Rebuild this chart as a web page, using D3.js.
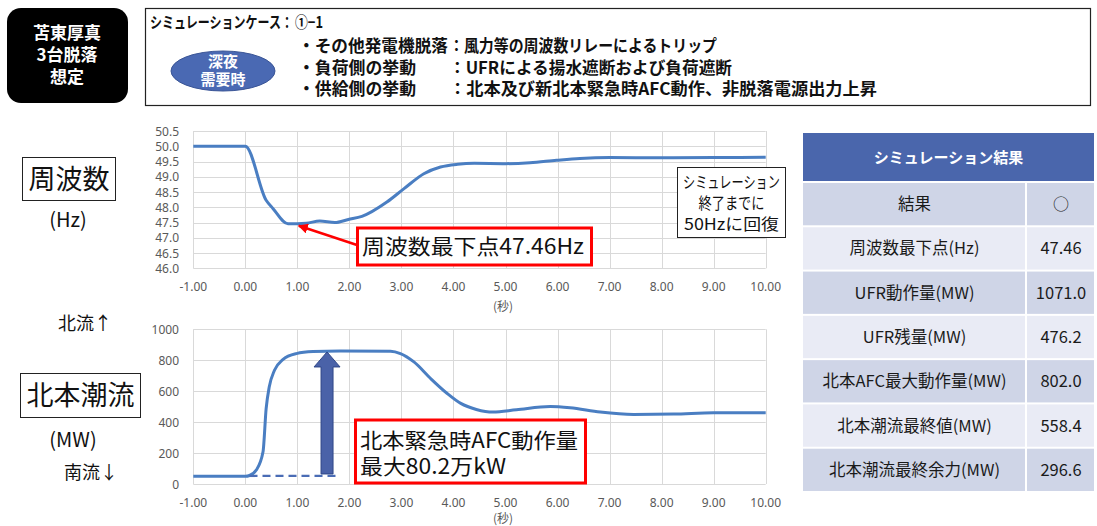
<!DOCTYPE html>
<html><head><meta charset="utf-8">
<script src="https://cdn.jsdelivr.net/npm/d3@7"></script>
<style>body{margin:0;background:#fff}svg{display:block}</style>
</head><body>
<svg id="c" width="1097" height="526"></svg>
<script>
// ---- data ----
const timeTicks = [-1,0,1,2,3,4,5,6,7,8,9,10];
const freqTicks = [46.0,46.5,47.0,47.5,48.0,48.5,49.0,49.5,50.0,50.5];
const flowTicks = [0,200,400,600,800,1000];
const freqT = [-1,0,0.40,0.53,0.82,1.17,1.43,1.72,1.98,2.24,2.72,3.05,3.43,3.75,4.08,4.4,5.0,5.47,5.98,6.43,7.0,8.0,9.0,10.0];
const freqV = [50.0,50.0,48.23,47.96,47.46,47.48,47.55,47.50,47.60,47.70,48.17,48.61,49.10,49.32,49.41,49.44,49.43,49.46,49.54,49.60,49.63,49.62,49.63,49.64];
const flowT = [-1,0,0.08,0.21,0.34,0.40,0.46,0.56,0.72,0.98,1.30,1.82,2.79,2.98,3.24,3.56,3.88,4.14,4.44,4.76,5.21,5.86,6.24,6.82,7.46,8.23,9.0,10.0];
const flowV = [50,50,55,90,208,488,628,735,804,843,856,860,858,843,789,682,585,521,482,465,480,501,493,465,450,452,460,460];
const baseFlow = 52;      // dashed base line
const peakFlow = 860;     // arrow top
const afcT = 1.57;        // arrow time
const dashT = [0.08, 1.82];
const minFreqT = 0.95, minFreqV = 47.46;
const caseTitle = ["シミュレーションケース：", "①−1"];
const headerLines = [
  ["・その他発電機脱落", "：風力等の周波数リレーによるトリップ"],
  ["・負荷側の挙動", "：UFRによる揚水遮断および負荷遮断"],
  ["・供給側の挙動", "：北本及び新北本緊急時AFC動作、非脱落電源出力上昇"]
];
const tableRows = [
  ["結果","○"],
  ["周波数最下点(Hz)","47.46"],
  ["UFR動作量(MW)","1071.0"],
  ["UFR残量(MW)","476.2"],
  ["北本AFC最大動作量(MW)","802.0"],
  ["北本潮流最終値(MW)","558.4"],
  ["北本潮流最終余力(MW)","296.6"]
];

const svg = d3.select("#c");
const JP = "'Noto Sans CJK JP','Noto Sans',sans-serif";
const NUM = "'Noto Sans','Liberation Sans',sans-serif";

// ---- header ----
svg.append("rect").attr("x",7).attr("y",8).attr("width",121).attr("height",95).attr("rx",14).attr("fill","#000");
[["苫東厚真",39],["3台脱落",61],["想定",83]].forEach(([t,y])=>{
  svg.append("text").attr("x",67).attr("y",y).attr("text-anchor","middle").attr("fill","#fff")
    .attr("font-family",JP).attr("font-weight","bold").attr("font-size",17).text(t);
});
svg.append("rect").attr("x",145.5).attr("y",8.5).attr("width",945).attr("height",97).attr("fill","#fff").attr("stroke","#222").attr("stroke-width",1.2);
svg.append("text").attr("x",150).attr("y",28).attr("font-family",JP).attr("font-weight","bold").attr("font-size",15.5).attr("fill","#111")
  .attr("textLength",143).attr("lengthAdjust","spacingAndGlyphs").text(caseTitle[0]);
svg.append("text").attr("x",295).attr("y",28).attr("font-family",JP).attr("font-weight","bold").attr("font-size",16).attr("fill","#111")
  .attr("textLength",28).attr("lengthAdjust","spacingAndGlyphs").text(caseTitle[1]);
svg.append("ellipse").attr("cx",223).attr("cy",71).attr("rx",52).attr("ry",20).attr("fill","#4a69b3").attr("stroke","#3a5596").attr("stroke-width",1);
[["深夜",67],["需要時",85]].forEach(([t,y])=>{
  svg.append("text").attr("x",223).attr("y",y).attr("text-anchor","middle").attr("fill","#fff")
    .attr("font-family",JP).attr("font-weight","bold").attr("font-size",15).text(t);
});
const valLen = [268, 283, 428];
headerLines.forEach((l,i)=>{
  const y = 52 + i*21.5;
  svg.append("text").attr("x",298).attr("y",y).attr("font-family",JP).attr("font-weight","bold").attr("font-size",16.5).attr("fill","#111")
    .attr("textLength", i===0 ? 150 : 118).attr("lengthAdjust","spacingAndGlyphs").text(l[0]);
  svg.append("text").attr("x",449).attr("y",y).attr("font-family",JP).attr("font-weight","bold").attr("font-size",16.5).attr("fill","#111")
    .attr("textLength",valLen[i]).attr("lengthAdjust","spacingAndGlyphs").text(l[1]);
});

// ---- scales ----
const x = d3.scaleLinear().domain([-1,10]).range([193.3,765.7]);
const yF = d3.scaleLinear().domain([46,50.5]).range([268.3,131]);
const yW = d3.scaleLinear().domain([0,1000]).range([484,329.3]);

function panel(y, ticks, fmt, labelY, unitY){
  const g = svg.append("g");
  g.selectAll(".hg").data(ticks).join("line")
    .attr("x1",x(-1)).attr("x2",x(10)).attr("y1",d=>Math.round(y(d))+0.5).attr("y2",d=>Math.round(y(d))+0.5)
    .attr("stroke","#d9d9d9").attr("stroke-width",1);
  g.selectAll(".vg").data(timeTicks).join("line")
    .attr("y1",y.range()[1]).attr("y2",y.range()[0]).attr("x1",d=>Math.round(x(d))+0.5).attr("x2",d=>Math.round(x(d))+0.5)
    .attr("stroke","#d9d9d9").attr("stroke-width",1);
  g.selectAll(".yl").data(ticks).join("text")
    .attr("x",179).attr("y",d=>y(d)+4.5).attr("text-anchor","end").attr("font-family",NUM).attr("font-size",12).attr("fill","#595959").text(fmt);
  g.selectAll(".xl").data(timeTicks).join("text")
    .attr("x",d=>x(d)).attr("y",labelY).attr("text-anchor","middle").attr("font-family",NUM).attr("font-size",12).attr("fill","#595959").text(d=>d.toFixed(2));
  g.append("text").attr("x",503).attr("y",unitY).attr("text-anchor","middle").attr("font-family",JP).attr("font-size",12).attr("fill","#595959").text("(秒)");
}
panel(yF, freqTicks, d=>d.toFixed(1), 291, 311);
panel(yW, flowTicks, d=>d, 507, 523);

const lineColor = "#4a7ec2";
svg.append("path").datum(freqT.map((t,i)=>[t,freqV[i]]))
  .attr("d", d3.line().x(d=>x(d[0])).y(d=>yF(d[1])).curve(d3.curveMonotoneX))
  .attr("fill","none").attr("stroke",lineColor).attr("stroke-width",3);
svg.append("path").datum(flowT.map((t,i)=>[t,flowV[i]]))
  .attr("d", d3.line().x(d=>x(d[0])).y(d=>yW(d[1])).curve(d3.curveMonotoneX))
  .attr("fill","none").attr("stroke",lineColor).attr("stroke-width",3);

// dashed base
svg.append("line").attr("x1",x(dashT[0])).attr("x2",x(dashT[1])).attr("y1",yW(baseFlow)).attr("y2",yW(baseFlow))
  .attr("stroke","#4a6cb5").attr("stroke-width",2.2).attr("stroke-dasharray","8,5");
// big arrow
{
  const cx = x(afcT), yb = yW(baseFlow)-2, yt = yW(peakFlow)+1, sw = 6, hw = 13, hh = 15;
  const pts = [[cx-sw,yb],[cx-sw,yt+hh],[cx-hw,yt+hh],[cx,yt],[cx+hw,yt+hh],[cx+sw,yt+hh],[cx+sw,yb]];
  svg.append("path").attr("d","M"+pts.map(p=>p.join(",")).join("L")+"Z").attr("fill","#4a62a8").attr("stroke","#2f4788").attr("stroke-width",1);
}

// frequency min annotation
svg.append("defs").append("marker").attr("id","ra").attr("viewBox","0 0 10 10").attr("refX",9).attr("refY",5)
  .attr("markerWidth",4).attr("markerHeight",4).attr("orient","auto")
  .append("path").attr("d","M0,0L10,5L0,10Z").attr("fill","#ff0000");
svg.append("line").attr("x1",357).attr("y1",245).attr("x2",x(minFreqT)+4).attr("y2",yF(minFreqV)+2)
  .attr("stroke","#ff0000").attr("stroke-width",2.5).attr("marker-end","url(#ra)");
svg.append("rect").attr("x",357.5).attr("y",228).attr("width",234).attr("height",37).attr("fill","#fff").attr("stroke","#ff0000").attr("stroke-width",3);
svg.append("text").attr("x",362).attr("y",254).attr("font-family",JP).attr("font-size",21).attr("fill","#111")
  .attr("textLength",222).attr("lengthAdjust","spacingAndGlyphs").text("周波数最下点"+minFreqV.toFixed(2)+"Hz");

svg.append("rect").attr("x",355.5).attr("y",420).attr("width",230).attr("height",63).attr("fill","#fff").attr("stroke","#ff0000").attr("stroke-width",3);
svg.append("text").attr("x",360).attr("y",448).attr("font-family",JP).attr("font-size",21).attr("fill","#111")
  .attr("textLength",218).attr("lengthAdjust","spacingAndGlyphs").text("北本緊急時AFC動作量");
svg.append("text").attr("x",360).attr("y",474).attr("font-family",JP).attr("font-size",21).attr("fill","#111")
  .attr("textLength",146).attr("lengthAdjust","spacingAndGlyphs").text("最大80.2万kW");

// note box
svg.append("rect").attr("x",677.5).attr("y",167.5).attr("width",108).attr("height",70).attr("fill","#fff").attr("stroke","#222").attr("stroke-width",1);
[["シミュレーション",188,97],["終了までに",209,66],["50Hzに回復",230,95]].forEach(([t,y,w])=>{
  svg.append("text").attr("x",731.5-w/2).attr("y",y).attr("font-family",JP).attr("font-size",16).attr("fill","#111")
    .attr("textLength",w).attr("lengthAdjust","spacingAndGlyphs").text(t);
});

// left labels
svg.append("rect").attr("x",22.5).attr("y",157.5).attr("width",93).attr("height",43).attr("fill","#fff").attr("stroke","#222").attr("stroke-width",1);
svg.append("text").attr("x",69).attr("y",189).attr("text-anchor","middle").attr("font-family",JP).attr("font-size",27).attr("fill","#111").text("周波数");
svg.append("text").attr("x",68).attr("y",227).attr("text-anchor","middle").attr("font-family",JP).attr("font-size",20).attr("fill","#111").text("(Hz)");
svg.append("text").attr("x",85).attr("y",330).attr("text-anchor","middle").attr("font-family",JP).attr("font-size",18).attr("fill","#111").text("北流↑");
svg.append("rect").attr("x",20.5).attr("y",373.5).attr("width",120).attr("height",44).attr("fill","#fff").attr("stroke","#222").attr("stroke-width",1);
svg.append("text").attr("x",80.5).attr("y",405).attr("text-anchor","middle").attr("font-family",JP).attr("font-size",27).attr("fill","#111").text("北本潮流");
svg.append("text").attr("x",73).attr("y",447).attr("text-anchor","middle").attr("font-family",JP).attr("font-size",20).attr("fill","#111").text("(MW)");
svg.append("text").attr("x",91).attr("y",479).attr("text-anchor","middle").attr("font-family",JP).attr("font-size",18).attr("fill","#111").text("南流↓");

// ---- table ----
const tx0 = 803, tx1 = 1026, tx2 = 1094;
svg.append("rect").attr("x",tx0).attr("y",133).attr("width",tx2-tx0).attr("height",48).attr("fill","#4a66ac");
svg.append("text").attr("x",(tx0+tx2)/2).attr("y",163).attr("text-anchor","middle").attr("font-family",JP).attr("font-weight","bold").attr("font-size",15).attr("fill","#fff").text("シミュレーション結果");
const rowY = d3.scaleBand().domain(d3.range(tableRows.length)).range([183,491]).paddingInner(0.045);
tableRows.forEach((r,i)=>{
  const y0 = rowY(i), h = rowY.bandwidth(), fill = i%2===0 ? "#cfd5e7" : "#e9ebf5";
  svg.append("rect").attr("x",tx0).attr("y",y0).attr("width",tx1-tx0-1).attr("height",h).attr("fill",fill);
  svg.append("rect").attr("x",tx1+1).attr("y",y0).attr("width",tx2-tx1-1).attr("height",h).attr("fill",fill);
  svg.append("text").attr("x",(tx0+tx1)/2).attr("y",y0+h/2+6).attr("text-anchor","middle").attr("font-family",JP).attr("font-size",16.5).attr("fill","#1a1a1a").text(r[0]);
  svg.append("text").attr("x",(tx1+tx2)/2+1).attr("y",y0+h/2+6).attr("text-anchor","middle").attr("font-family",JP).attr("font-size",i===0?16:16.5).attr("fill","#1a1a1a").text(r[1]);
});
</script>
</body></html>
